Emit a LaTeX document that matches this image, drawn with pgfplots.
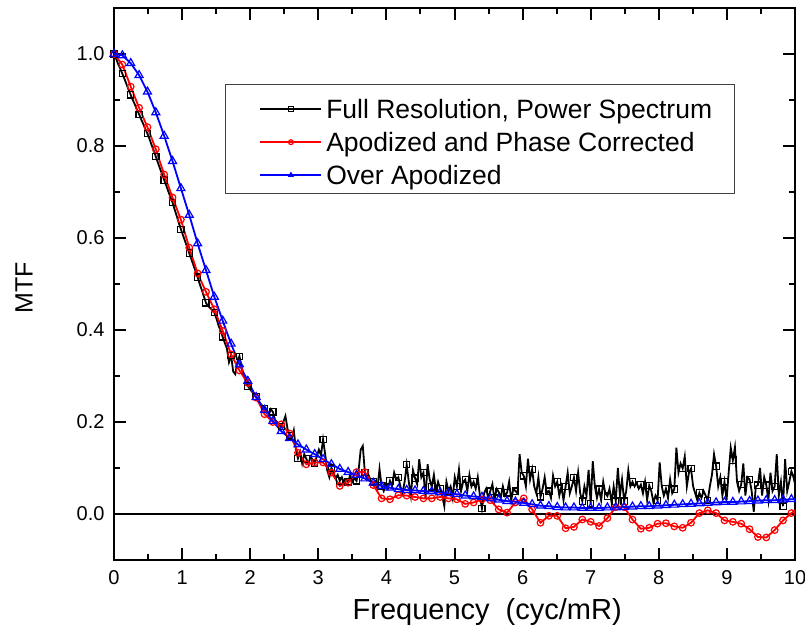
\documentclass[border=0pt]{standalone}
\usepackage{pgfplots}
\pgfplotsset{compat=1.18}
\usepackage{pgfplotstable}
\usepackage{fontspec}
\setmainfont{Liberation Sans}

% Full resolution, power spectrum (step 0.0307 cyc/mR)
\pgfplotstableread[row sep=\\]{
y\\
1.000\\ 0.990\\ 0.978\\ 0.968\\
0.957\\ 0.946\\ 0.934\\ 0.922\\
0.911\\ 0.900\\ 0.890\\ 0.879\\
0.869\\ 0.858\\ 0.848\\ 0.837\\
0.827\\ 0.815\\ 0.802\\ 0.790\\
0.777\\ 0.764\\ 0.751\\ 0.739\\
0.726\\ 0.714\\ 0.701\\ 0.689\\
0.677\\ 0.662\\ 0.648\\ 0.633\\
0.619\\ 0.606\\ 0.593\\ 0.580\\
0.567\\ 0.554\\ 0.541\\ 0.528\\
0.515\\ 0.500\\ 0.487\\ 0.473\\
0.459\\ 0.452\\ 0.448\\ 0.443\\
0.438\\ 0.425\\ 0.410\\ 0.398\\
0.385\\ 0.372\\ 0.360\\ 0.330\\
0.345\\ 0.310\\ 0.304\\ 0.330\\
0.343\\ 0.320\\ 0.300\\ 0.290\\
0.278\\ 0.272\\ 0.266\\ 0.260\\
0.255\\ 0.248\\ 0.240\\ 0.235\\
0.230\\ 0.226\\ 0.215\\ 0.228\\
0.222\\ 0.205\\ 0.200\\ 0.192\\
0.190\\ 0.200\\ 0.213\\ 0.185\\
0.170\\ 0.165\\ 0.182\\ 0.140\\
0.121\\ 0.135\\ 0.110\\ 0.130\\
0.120\\ 0.108\\ 0.125\\ 0.118\\
0.110\\ 0.125\\ 0.140\\ 0.128\\
0.162\\ 0.130\\ 0.095\\ 0.080\\
0.100\\ 0.090\\ 0.078\\ 0.085\\
0.072\\ 0.080\\ 0.068\\ 0.075\\
0.070\\ 0.085\\ 0.070\\ 0.078\\
0.072\\ 0.095\\ 0.140\\ 0.148\\
0.090\\ 0.075\\ 0.082\\ 0.070\\
0.070\\ 0.072\\ 0.055\\ 0.098\\
0.061\\ 0.050\\ 0.065\\ 0.055\\
0.072\\ 0.060\\ 0.090\\ 0.075\\
0.080\\ 0.060\\ 0.045\\ 0.070\\
0.107\\ 0.070\\ 0.040\\ 0.095\\
0.078\\ 0.065\\ 0.119\\ 0.080\\
0.090\\ 0.035\\ 0.108\\ 0.075\\
0.059\\ 0.085\\ 0.050\\ 0.070\\
0.055\\ 0.040\\ 0.017\\ 0.070\\
0.050\\ 0.060\\ 0.035\\ 0.080\\
0.060\\ 0.097\\ 0.050\\ 0.070\\
0.075\\ 0.050\\ 0.085\\ 0.060\\
0.070\\ 0.055\\ 0.080\\ 0.040\\
0.012\\ 0.045\\ 0.055\\ 0.035\\
0.050\\ 0.065\\ 0.030\\ 0.055\\
0.048\\ 0.035\\ 0.060\\ 0.040\\
0.046\\ 0.070\\ 0.030\\ 0.055\\
0.050\\ 0.045\\ 0.130\\ 0.090\\
0.083\\ 0.060\\ 0.120\\ 0.075\\
0.097\\ 0.060\\ 0.045\\ 0.080\\
0.037\\ 0.055\\ 0.080\\ 0.045\\
0.050\\ 0.035\\ 0.083\\ 0.060\\
0.070\\ 0.040\\ 0.060\\ 0.030\\
0.060\\ 0.090\\ 0.045\\ 0.060\\
0.079\\ 0.050\\ 0.090\\ 0.045\\
0.028\\ 0.060\\ 0.040\\ 0.096\\
0.022\\ 0.115\\ 0.060\\ 0.035\\
0.054\\ 0.030\\ 0.070\\ 0.045\\
0.039\\ 0.055\\ 0.025\\ 0.060\\
0.028\\ 0.100\\ 0.040\\ 0.075\\
0.028\\ 0.050\\ 0.095\\ 0.060\\
0.070\\ 0.060\\ 0.068\\ 0.055\\
0.064\\ 0.045\\ 0.070\\ 0.030\\
0.062\\ 0.050\\ 0.025\\ 0.040\\
0.030\\ 0.112\\ 0.060\\ 0.040\\
0.055\\ 0.035\\ 0.075\\ 0.045\\
0.054\\ 0.144\\ 0.090\\ 0.110\\
0.099\\ 0.125\\ 0.060\\ 0.090\\
0.099\\ 0.060\\ 0.045\\ 0.030\\
0.046\\ 0.035\\ 0.050\\ 0.040\\
0.030\\ 0.060\\ 0.085\\ 0.130\\
0.104\\ 0.060\\ 0.080\\ 0.040\\
0.070\\ 0.030\\ 0.090\\ 0.144\\
0.117\\ 0.145\\ 0.070\\ 0.050\\
0.064\\ 0.110\\ 0.040\\ 0.080\\
0.075\\ 0.050\\ 0.005\\ 0.060\\
0.063\\ 0.100\\ 0.040\\ 0.080\\
0.063\\ 0.030\\ 0.090\\ 0.050\\
0.060\\ 0.130\\ 0.040\\ 0.070\\
0.017\\ 0.119\\ 0.050\\ 0.070\\
0.093\\ 0.080\\ 0.060\\ 0.090\\
0.080\\
}\fullres

% Apodized and phase corrected (step 0.1228 cyc/mR)
\pgfplotstableread[row sep=\\]{
y\\
1.000\\ 0.977\\ 0.929\\ 0.883\\ 0.841\\ 0.793\\ 0.738\\ 0.688\\ 0.640\\ 0.579\\
0.523\\ 0.483\\ 0.445\\ 0.398\\ 0.347\\ 0.312\\ 0.285\\ 0.253\\ 0.217\\ 0.200\\
0.195\\ 0.175\\ 0.133\\ 0.108\\ 0.112\\ 0.112\\ 0.090\\ 0.061\\ 0.068\\ 0.091\\
0.091\\ 0.063\\ 0.034\\ 0.032\\ 0.041\\ 0.040\\ 0.037\\ 0.034\\ 0.034\\ 0.037\\
0.034\\ 0.032\\ 0.022\\ 0.025\\ 0.032\\ 0.030\\ 0.010\\ 0.003\\ 0.025\\ 0.034\\
0.010\\ -0.019\\ -0.004\\ -0.004\\ -0.031\\ -0.028\\ -0.012\\ -0.017\\ -0.026\\ -0.009\\
0.015\\ 0.015\\ -0.012\\ -0.032\\ -0.030\\ -0.021\\ -0.020\\ -0.027\\ -0.030\\ -0.019\\
0.002\\ 0.008\\ 0.002\\ -0.014\\ -0.017\\ -0.021\\ -0.033\\ -0.050\\ -0.051\\ -0.035\\
-0.014\\ 0.002\\ 0.015\\
}\apod

% Over apodized (step 0.1228 cyc/mR)
\pgfplotstableread[row sep=\\]{
y\\
1.000\\ 0.997\\ 0.980\\ 0.954\\ 0.918\\ 0.873\\ 0.822\\ 0.767\\ 0.708\\ 0.650\\
0.588\\ 0.530\\ 0.472\\ 0.420\\ 0.370\\ 0.325\\ 0.289\\ 0.254\\ 0.226\\ 0.202\\
0.180\\ 0.165\\ 0.151\\ 0.140\\ 0.130\\ 0.119\\ 0.108\\ 0.098\\ 0.091\\ 0.085\\
0.077\\ 0.068\\ 0.061\\ 0.057\\ 0.054\\ 0.052\\ 0.051\\ 0.050\\ 0.049\\ 0.047\\
0.045\\ 0.043\\ 0.040\\ 0.038\\ 0.037\\ 0.034\\ 0.031\\ 0.028\\ 0.027\\ 0.024\\
0.021\\ 0.018\\ 0.017\\ 0.015\\ 0.014\\ 0.014\\ 0.013\\ 0.013\\ 0.013\\ 0.014\\
0.014\\ 0.015\\ 0.016\\ 0.017\\ 0.017\\ 0.018\\ 0.019\\ 0.020\\ 0.021\\ 0.022\\
0.023\\ 0.024\\ 0.025\\ 0.026\\ 0.026\\ 0.027\\ 0.028\\ 0.029\\ 0.030\\ 0.030\\
0.031\\ 0.032\\ 0.033\\
}\overapod

\begin{document}
\begin{tikzpicture}
\begin{axis}[
  scale only axis, width=681pt, height=552pt,
  xmin=0, xmax=10, ymin=-0.1, ymax=1.1,
  xtick={0,1,2,3,4,5,6,7,8,9,10}, minor x tick num=1,
  ytick={0,0.2,0.4,0.6,0.8,1.0}, minor y tick num=1,
  tick align=inside,
  major tick length=12pt, minor tick length=6.5pt,
  every tick/.style={black, line width=2pt},
  axis line style={line width=2.4pt},
  /pgf/number format/assume math mode=true,
  yticklabel style={/pgf/number format/fixed, /pgf/number format/fixed zerofill,
    /pgf/number format/precision=1, xshift=-6pt},
  tick label style={font=\fontsize{20}{24}\selectfont},
  xticklabel style={yshift=-7pt},
  xlabel={Frequency\ \ (cyc/mR)}, ylabel={MTF},
  label style={font=\fontsize{29}{32}\selectfont},
  xlabel style={at={(axis description cs:0.548,-0.0942)}, anchor=center},
  ylabel style={at={(axis description cs:-0.1322,0.4928)}, anchor=center, font=\fontsize{25}{30}\selectfont},
  legend style={at={(0.163,0.862)}, anchor=north west, draw=black!75, line width=1pt,
    font=\fontsize{26.5}{30}\selectfont, inner xsep=18pt, inner ysep=5pt, row sep=0pt,
    nodes={inner sep=4pt, text height=25pt, text depth=0pt}},
  legend cell align=left,
  legend image code/.code={%
    \path (0pt,0pt) (77pt,0pt);
    \draw[#1, mark repeat=2, mark phase=2, mark size=2.4pt, yshift=-3pt] plot coordinates {(16pt,0pt) (46.5pt,0pt) (77pt,0pt)};},
]
\addplot[black, line width=2pt, forget plot] coordinates {(0,0) (10,0)};
\addplot[black, line width=1.8pt, mark=square, mark size=3.1pt, mark repeat=4,
  mark options={fill=white, solid, line width=1.2pt}]
  table[x expr=\coordindex*0.0307, y=y] {\fullres};
\addlegendentry{Full Resolution, Power Spectrum}
\addplot[red, line width=1.8pt, mark=o, mark size=3.3pt,
  mark options={fill=white, solid, line width=1.2pt}]
  table[x expr=\coordindex*0.1228, y=y] {\apod};
\addlegendentry{Apodized and Phase Corrected}
\addplot[blue, line width=1.8pt, mark=triangle, mark size=4.6pt,
  mark options={fill=white, solid, line width=1.2pt}]
  table[x expr=\coordindex*0.1228, y=y] {\overapod};
\addlegendentry{Over Apodized}
\end{axis}
\pgfresetboundingbox
\path[use as bounding box] (-114pt,-78pt) rectangle (691pt,560pt);
\end{tikzpicture}
\end{document}
